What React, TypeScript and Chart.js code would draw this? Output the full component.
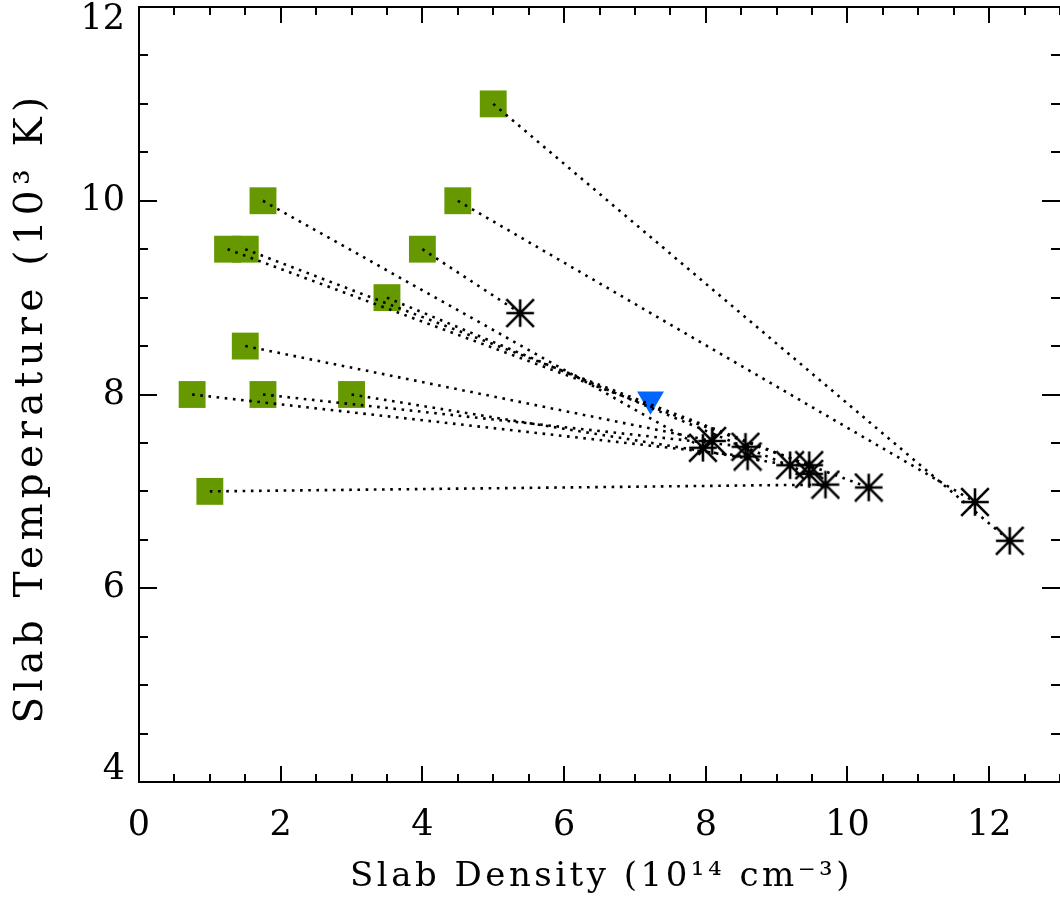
import React, { useEffect, useRef } from 'react';
import { Chart, registerables } from 'chart.js';

Chart.register(...registerables);

// Initial slab values (green squares)
const initDensity = [5.0, 4.5, 4.0, 1.75, 1.25, 1.5, 3.5, 1.5, 0.75, 1.75, 3.0, 1.0];
const initTemp = [11.0, 10.0, 9.5, 10.0, 9.5, 9.5, 9.0, 8.5, 8.0, 8.0, 8.0, 7.0];
// Final slab values (black asterisks), same order as the squares
const finalDensity = [12.29, 11.8, 5.38, 7.96, 10.3, 9.46, 9.46, 8.09, 8.59, 8.56, 9.19, 9.69];
const finalTemp = [6.49, 6.89, 8.84, 7.45, 7.04, 7.27, 7.18, 7.52, 7.36, 7.46, 7.27, 7.07];
// Separate point (blue downward triangle)
const triDensity = [7.22];
const triTemp = [7.95];

// Axis ticks and titles
const xTickValues = [0, 2, 4, 6, 8, 10, 12];
const xTickLabels = ['0', '2', '4', '6', '8', '10', '12'];
const yTickValues = [4, 6, 8, 10, 12];
const yTickLabels = ['4', '6', '8', '10', '12'];
const xTitle = 'Slab Density (10¹⁴ cm⁻³)';
const yTitle = 'Slab Temperature (10³ K)';

const X_MIN = 0, X_MAX = 13, Y_MIN = 4, Y_MAX = 12;
const X_MINOR = 0.5, Y_MINOR = 0.5;
const FONT = "'DejaVu Serif', serif";

function makeAsterisk(): HTMLCanvasElement {
  const c = document.createElement('canvas');
  c.width = 30; c.height = 30;
  const g = c.getContext('2d')!;
  const m = 15, h = 13.8;
  g.strokeStyle = '#000';
  g.lineWidth = 2.6;
  g.beginPath();
  g.moveTo(m - h, m); g.lineTo(m + h, m);
  g.moveTo(m, m - h); g.lineTo(m, m + h);
  g.moveTo(m - h, m - h); g.lineTo(m + h, m + h);
  g.moveTo(m - h, m + h); g.lineTo(m + h, m - h);
  g.stroke();
  return c;
}

const idlFrame = {
  id: 'idlFrame',
  afterDraw(chart: any) {
    const { ctx, chartArea, scales } = chart;
    const { left, right, top, bottom } = chartArea;
    const xs = scales.x, ys = scales.y;
    ctx.save();
    ctx.strokeStyle = '#000';
    ctx.lineWidth = 2;
    ctx.lineCap = 'butt';
    ctx.beginPath();
    ctx.moveTo(left, top); ctx.lineTo(right + 2, top);
    ctx.moveTo(left, bottom); ctx.lineTo(right + 2, bottom);
    ctx.moveTo(left, top - 1); ctx.lineTo(left, bottom + 1);
    ctx.moveTo(right + 2, top - 1); ctx.lineTo(right + 2, bottom + 1);
    const isMajor = (v: number, step: number) => Math.abs(v / step - Math.round(v / step)) < 1e-6;
    for (let v = X_MIN; v <= X_MAX + 1e-9; v += X_MINOR) {
      const px = Math.round(xs.getPixelForValue(v));
      const len = isMajor(v, 2) ? 16 : 8;
      ctx.moveTo(px, bottom); ctx.lineTo(px, bottom - len);
      ctx.moveTo(px, top); ctx.lineTo(px, top + len);
    }
    for (let v = Y_MIN; v <= Y_MAX + 1e-9; v += Y_MINOR) {
      const py = Math.round(ys.getPixelForValue(v));
      const len = isMajor(v, 2) ? 18 : 9;
      ctx.moveTo(left, py); ctx.lineTo(left + len, py);
      ctx.moveTo(right, py); ctx.lineTo(right - len, py);
    }
    ctx.stroke();

    ctx.fillStyle = '#000';
    // y tick labels (kept inside the frame at the ends, as in the original)
    ctx.font = `35px ${FONT}`;
    ctx.textAlign = 'right';
    ctx.textBaseline = 'middle';
    yTickValues.forEach((v, i) => {
      let py = ys.getPixelForValue(v);
      py = Math.min(Math.max(py, top + 13), bottom - 12);
      ctx.fillText(yTickLabels[i], left - 14, py);
    });

    // axis titles
    ctx.textAlign = 'center';
    ctx.textBaseline = 'middle';
    ctx.font = `34px ${FONT}`;
    (ctx as any).letterSpacing = '3.5px';
    ctx.fillText(xTitle, (left + right) / 2 + 2, 877);
    ctx.translate(32, (top + bottom) / 2 + 13);
    ctx.rotate(-Math.PI / 2);
    ctx.font = `39px ${FONT}`;
    (ctx as any).letterSpacing = '5.3px';
    ctx.fillText(yTitle, 0, 0);
    ctx.restore();
  },
};

export default function App() {
  const ref = useRef<HTMLCanvasElement>(null);

  useEffect(() => {
    const canvas = ref.current!;
    const asterisk = makeAsterisk();

    const lineSets = initDensity.map((x0, i) => ({
      type: 'line' as const,
      data: [
        { x: x0, y: initTemp[i] },
        { x: finalDensity[i], y: finalTemp[i] },
      ],
      showLine: true,
      borderColor: '#000',
      borderWidth: 2.6,
      borderDash: [2.6, 5.6],
      pointRadius: 0,
      fill: false,
      order: 0,
    }));

    const chart = new Chart(canvas, {
      type: 'scatter',
      data: {
        datasets: [
          ...lineSets,
          {
            data: finalDensity.map((x, i) => ({ x, y: finalTemp[i] })),
            pointStyle: asterisk as any,
            pointRadius: 15,
            order: 1,
          },
          {
            data: triDensity.map((x, i) => ({ x, y: triTemp[i] })),
            pointStyle: 'triangle',
            rotation: 180,
            pointRadius: 15.5,
            backgroundColor: '#0066ff',
            borderWidth: 0,
            order: 1,
          },
          {
            data: initDensity.map((x, i) => ({ x, y: initTemp[i] })),
            pointStyle: 'rect',
            pointRadius: 19,
            backgroundColor: '#669900',
            borderWidth: 0,
            order: 2,
          },
        ] as any,
      },
      options: {
        animation: false,
        responsive: false,
        devicePixelRatio: 1,
        events: [],
        layout: { autoPadding: false, padding: { top: 7, right: 0, bottom: 0, left: 0 } },
        plugins: { legend: { display: false }, tooltip: { enabled: false } },
        scales: {
          x: {
            type: 'linear',
            min: X_MIN,
            max: X_MAX,
            grid: { display: false, drawTicks: false },
            border: { display: false },
            ticks: {
              stepSize: 2,
              includeBounds: false,
              autoSkip: false,
              maxRotation: 0,
              padding: 23,
              color: '#000',
              font: { family: FONT, size: 35 },
              callback: (v: any) => {
                const i = xTickValues.indexOf(Number(v));
                return i >= 0 ? xTickLabels[i] : '';
              },
            },
            title: { display: false },
            afterFit: (s: any) => {
              s.height = 121;
              s.paddingLeft = 0;
              s.paddingRight = 0;
            },
          },
          y: {
            type: 'linear',
            min: Y_MIN,
            max: Y_MAX,
            grid: { display: false, drawTicks: false },
            border: { display: false },
            ticks: { display: false, stepSize: 2 },
            title: { display: false },
            afterFit: (s: any) => {
              s.width = 139;
              s.paddingTop = 0;
              s.paddingBottom = 0;
            },
          },
        },
      } as any,
      plugins: [idlFrame],
    });
    return () => chart.destroy();
  }, []);

  return (
    <div style={{ position: 'absolute', left: 0, top: 0, width: 1060, height: 903, overflow: 'hidden', background: '#fff' }}>
      <canvas ref={ref} width={1060} height={903} style={{ display: 'block', width: 1060, height: 903 }} />
    </div>
  );
}
